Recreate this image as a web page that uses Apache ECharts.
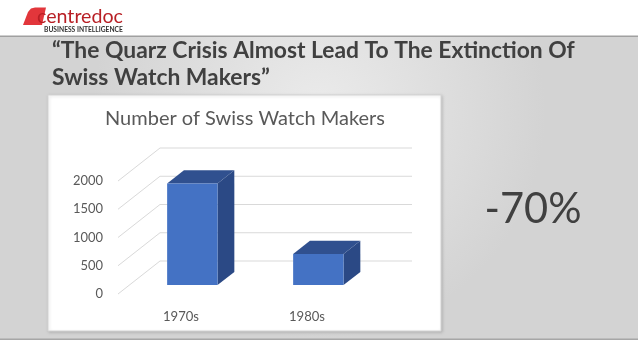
<!DOCTYPE html>
<html>
<head>
<meta charset="utf-8">
<script src="https://cdn.jsdelivr.net/npm/echarts@6/dist/echarts.min.js"></script>
<style>
html,body{margin:0;padding:0;background:#fff;}
#c{width:638px;height:359px;}
</style>
</head>
<body>
<div id="c"></div>
<script>
// ---- data ----
const categories = ['1970s', '1980s'];
const watchMakers = [1800, 550];
const yTicks = [0, 500, 1000, 1500, 2000];
const chartTitle = 'Number of Swiss Watch Makers';
const slideTitle1 = '\u201CThe Quarz Crisis Almost Lead To The Extinction Of';
const slideTitle2 = 'Swiss Watch Makers\u201D';
const bigLabel = '-70%';

// ---- helpers ----
const FAM = 'Lato, "Open Sans", sans-serif';
const ctx = document.createElement('canvas').getContext('2d');
function fit(text, weight, target) {
  ctx.font = weight + ' 100px ' + FAM;
  return 100 * target / ctx.measureText(text).width;
}

// oblique depth vector of the 3D walls
const DX = 42, DY = -33;
const F0 = 0.27;    // bar front position in depth
const DEPTH = 0.4;  // bar depth fraction

const titleSize = fit(slideTitle1, 'bold', 523);
const chartTitleSize = fit(chartTitle, 'normal', 280);
const tickSize = fit('2000', 'normal', 30);
const catSize = fit('1970s', 'normal', 36);
const bigSize = fit(bigLabel, 'normal', 97);
const logoSize = fit('centredoc', 'normal', 86);
const biSize = fit('BUSINESS INTELLIGENCE', 'bold', 79);

const chart = echarts.init(document.getElementById('c'), null, {renderer: 'canvas'});

const option = {
  animation: false,
  backgroundColor: '#ffffff',
  graphic: [
    // slide background
    {type: 'rect', z: -10, shape: {x: 0, y: 37, width: 638, height: 302},
     style: {fill: new echarts.graphic.RadialGradient(0.5, 0.25, 0.75, [
       {offset: 0, color: '#ebebeb'}, {offset: 1, color: '#d3d3d3'}])}},
    {type: 'rect', z: -9, shape: {x: 0, y: 35.5, width: 638, height: 1.5}, style: {fill: '#a0a0a0'}},
    {type: 'rect', z: -9, shape: {x: 0, y: 338.5, width: 638, height: 1.5}, style: {fill: '#a6a6a6'}},
    // chart area box
    {type: 'rect', z: -8, shape: {x: 48, y: 95, width: 393, height: 236},
     style: {fill: '#ffffff', stroke: '#d4d4d4', lineWidth: 1,
             shadowBlur: 3, shadowColor: 'rgba(0,0,0,0.15)', shadowOffsetX: 1, shadowOffsetY: 1}},
    // logo
    {type: 'polygon', z: 5, shape: {points: [[23, 25], [28, 12], [31, 8.5], [35, 7.5], [46, 7.5], [42, 25]]},
     style: {fill: '#e2363b'}},
    {type: 'text', z: 6, style: {text: 'centredoc', x: 37, y: 17, fontSize: logoSize, fontFamily: FAM,
      fill: '#b81f25', textVerticalAlign: 'middle', textAlign: 'left'}},
    {type: 'text', z: 6, style: {text: 'BUSINESS INTELLIGENCE', x: 44, y: 29.5, fontSize: biSize,
      fontWeight: 'bold', fontFamily: FAM, fill: '#333333', textVerticalAlign: 'middle', textAlign: 'left'}},
    // slide title
    {type: 'text', z: 6, style: {text: slideTitle1, x: 52, y: 51, fontSize: titleSize, fontWeight: 'bold',
      fontFamily: FAM, fill: '#404040', textVerticalAlign: 'middle', textAlign: 'left'}},
    {type: 'text', z: 6, style: {text: slideTitle2, x: 52, y: 78, fontSize: titleSize, fontWeight: 'bold',
      fontFamily: FAM, fill: '#404040', textVerticalAlign: 'middle', textAlign: 'left'}},
    // chart title
    {type: 'text', z: 6, style: {text: chartTitle, x: 245, y: 119, fontSize: chartTitleSize,
      fontFamily: FAM, fill: '#595959', textVerticalAlign: 'middle', textAlign: 'center'}},
    // big label
    {type: 'text', z: 6, style: {text: bigLabel, x: 533, y: 210, fontSize: bigSize,
      fontFamily: FAM, fill: '#404040', textVerticalAlign: 'middle', textAlign: 'center'}}
  ],
  grid: {left: 118, right: 268, top: 181, bottom: 65, containLabel: false},
  xAxis: {
    type: 'category', data: categories,
    axisLine: {show: false}, axisTick: {show: false},
    axisLabel: {color: '#595959', fontSize: catSize, fontFamily: FAM, margin: 16}
  },
  yAxis: {
    type: 'value', min: 0, max: 2000, interval: 500,
    axisLine: {show: false}, axisTick: {show: false}, splitLine: {show: false},
    axisLabel: {color: '#595959', fontSize: tickSize, fontFamily: FAM, margin: 15,
                formatter: v => String(v)}
  },
  series: [
    {
      type: 'custom', name: 'walls', silent: true, clip: false, z: 1,
      data: yTicks.map(v => [0, v]),
      encode: {x: 0, y: 1},
      renderItem: function (params, api) {
        const cs = params.coordSys;
        const yf = api.coord([0, api.value(1)])[1];
        const x0 = cs.x, x1 = cs.x + cs.width;
        const st = {stroke: '#d9d9d9', lineWidth: 1, fill: null};
        return {type: 'group', children: [
          {type: 'line', shape: {x1: x0, y1: yf, x2: x0 + DX, y2: yf + DY}, style: st},
          {type: 'line', shape: {x1: x0 + DX, y1: yf + DY, x2: x1 + DX, y2: yf + DY}, style: st}
        ]};
      }
    },
    {
      type: 'custom', name: 'Number of Swiss Watch Makers', clip: false, z: 3,
      data: categories.map((c, i) => [i, watchMakers[i]]),
      encode: {x: 0, y: 1},
      renderItem: function (params, api) {
        const i = api.value(0), v = api.value(1);
        const b = api.coord([i, 0]), t = api.coord([i, v]);
        const band = api.size([1, 0])[0];
        const w = band * 0.4;
        const x0 = b[0] - w / 2 + F0 * DX, x1 = x0 + w;
        const yb = b[1] + F0 * DY, yt = t[1] + F0 * DY;
        const dx = DEPTH * DX, dy = DEPTH * DY;
        return {type: 'group', children: [
          {type: 'polygon', shape: {points: [[x1, yt], [x1 + dx, yt + dy], [x1 + dx, yb + dy], [x1, yb]]},
           style: {fill: '#2b4985'}},
          {type: 'polygon', shape: {points: [[x0, yt], [x1, yt], [x1 + dx, yt + dy], [x0 + dx, yt + dy]]},
           style: {fill: '#30508f'}},
          {type: 'rect', shape: {x: x0, y: yt, width: w, height: yb - yt}, style: {fill: '#4472c4'}}
        ]};
      }
    }
  ]
};
chart.setOption(option);
</script>
</body>
</html>
